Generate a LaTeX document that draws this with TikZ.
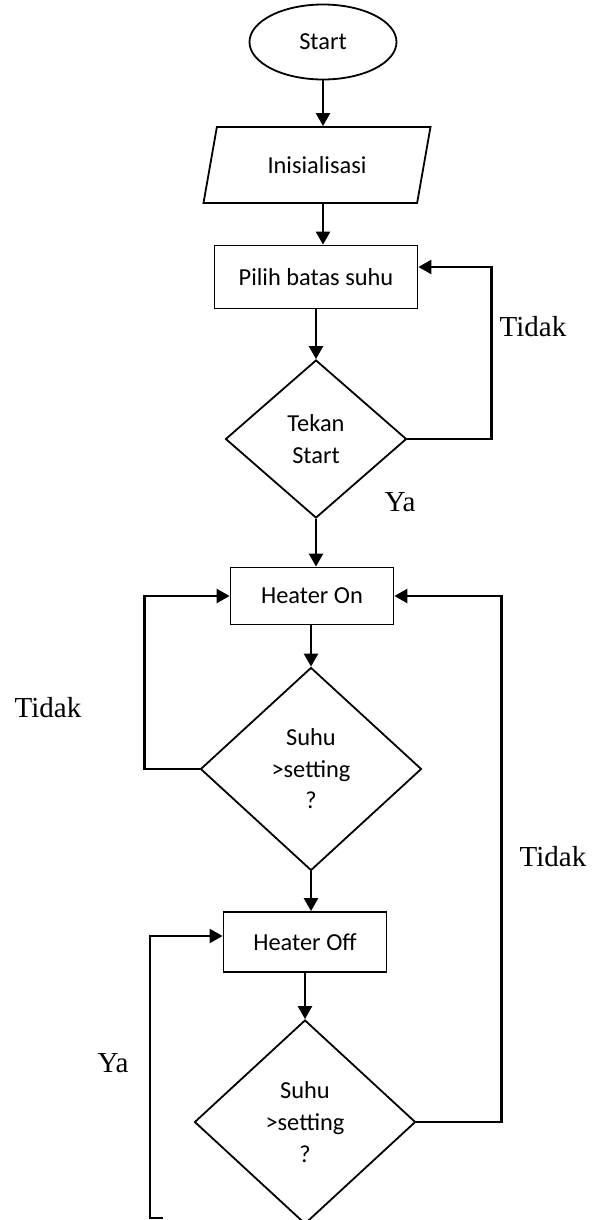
\documentclass[tikz,border=0pt]{standalone}
\usepackage{fontspec}
\setmainfont{Liberation Serif}
\newfontfamily\calibri{Carlito}
\usetikzlibrary{shapes.geometric,arrows.meta}
\begin{document}
\begin{tikzpicture}[x=0.5pt,y=-0.5pt,
    every node/.style={font=\calibri\fontsize{12.2}{15.8}\selectfont},
    terminal/.style={draw, ellipse, line width=0.9pt, inner sep=0pt},
    io/.style={draw, trapezium, trapezium left angle=52, trapezium right angle=128,
        trapezium stretches body, line width=0.9pt, inner sep=0pt},
    box/.style={draw, rectangle, line width=0.9pt, inner sep=0pt},
    decision/.style={draw, diamond, line width=0.9pt, inner sep=0pt, align=center},
    arrow/.style={-{Triangle[length=6.5pt,width=7pt]}, line width=1.2pt},
    lbl/.style={font=\rmfamily\fontsize{14.5}{17}\selectfont}]
    \useasboundingbox (0,0) rectangle (592,1220);

    \node[terminal, minimum width=73.5pt, minimum height=37.5pt] (start) at (323,42) {Start};
    \node[io, minimum width=113.5pt, minimum height=38pt] (init) at (317,165) {Inisialisasi};
    \node[box, minimum width=101.5pt, minimum height=31.5pt] (pilih) at (316,277) {Pilih batas suhu};
    \node[decision, minimum width=90.5pt, minimum height=79pt] (tekan) at (316,439) {Tekan\\Start};
    \node[box, minimum width=81.5pt, minimum height=28.5pt] (heateron) at (312,596) {Heater On};
    \node[decision, minimum width=110.5pt, minimum height=101.5pt] (suhu1) at (311,769) {Suhu\\>setting\\?};
    \node[box, minimum width=81.5pt, minimum height=30pt] (heateroff) at (305,942) {Heater Off};
    \node[decision, minimum width=110.5pt, minimum height=102pt] (suhu2) at (305,1122) {Suhu\\>setting\\?};

    \draw[arrow] (start.south) -- (start.south |- init.north);
    \draw[arrow] (init.south -| start.south) -- (start.south |- pilih.north);
    \draw[arrow] (pilih.south -| tekan.north) -- (tekan.north);
    \draw[arrow] (tekan.south) -- (tekan.south |- heateron.north);
    \draw[arrow] (heateron.south -| suhu1.north) -- (suhu1.north);
    \draw[arrow] (suhu1.south) -- (suhu1.south |- heateroff.north);
    \draw[arrow] (heateroff.south -| suhu2.north) -- (suhu2.north);

    \draw[arrow] (tekan.east) -- ++(84,0) |- ([yshift=5pt]pilih.east);
    \draw[arrow] (suhu1.west) -- ++(-55,0) |- (heateron.west);
    \draw[arrow] (suhu2.east) -- ++(85,0) |- (heateron.east);
    \coordinate (yaend) at (163,1218);
    \draw[arrow] (yaend) -- ++(-13,0) |- ([yshift=3pt]heateroff.west);

    \node[lbl] (tidak1) at (533,327) {Tidak};
    \node[lbl] (ya1) at (400,502) {Ya};
    \node[lbl] (tidak2) at (48,708) {Tidak};
    \node[lbl] (tidak3) at (553,857) {Tidak};
    \node[lbl] (ya2) at (113,1063) {Ya};
\end{tikzpicture}
\end{document}
